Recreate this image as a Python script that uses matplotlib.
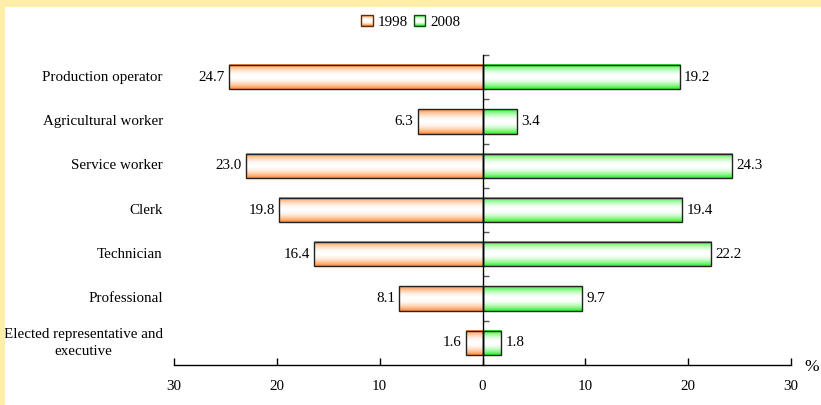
import numpy as np
import matplotlib
matplotlib.use("Agg")
import matplotlib.pyplot as plt
from matplotlib.patches import Rectangle
from matplotlib.legend_handler import HandlerBase
from matplotlib.colors import to_rgb

categories = ['Production operator', 'Agricultural worker', 'Service worker', 'Clerk',
              'Technician', 'Professional', 'Elected representative and\nexecutive']
v1998 = [24.7, 6.3, 23.0, 19.8, 16.4, 8.1, 1.6]
v2008 = [19.2, 3.4, 24.3, 19.4, 22.2, 9.7, 1.8]
series_names = ['1998', '2008']
xticks = [-30, -20, -10, 0, 10, 20, 30]

ORANGE = '#FF8833'
GREEN = '#22F022'

plt.rcParams['font.family'] = ['Liberation Serif', 'DejaVu Serif']
plt.rcParams['font.size'] = 10.8

fig = plt.figure(figsize=(8.21, 4.05), dpi=100)
fig.patch.set_facecolor('white')
# yellow frame (top and left)
fig.patches.append(Rectangle((0, 1 - 7 / 405), 1, 7 / 405, transform=fig.transFigure,
                             facecolor='#FFEDAA', edgecolor='none', zorder=0))
fig.patches.append(Rectangle((0, 0), 5 / 821, 1, transform=fig.transFigure,
                             facecolor='#FFEDAA', edgecolor='none', zorder=0))

ax = fig.add_axes([174 / 821, 40 / 405, 617 / 821, 310 / 405])
ax.set_facecolor('none')

def gradient(color, n=64, p=2.0):
    c = np.array(to_rgb(color))
    t = np.linspace(-1, 1, n)
    w = np.abs(t) ** p
    img = (1 - w)[:, None] * np.ones(3)[None, :] + w[:, None] * c[None, :]
    return img[:, None, :]

y = np.arange(len(categories))
h = 0.55
bars_a = ax.barh(y, [-v for v in v1998], height=h, facecolor='none', edgecolor='#222222',
                 linewidth=1, zorder=3)
bars_b = ax.barh(y, v2008, height=h, facecolor='none', edgecolor='#222222',
                 linewidth=1, zorder=3)
for bars, col in ((bars_a, ORANGE), (bars_b, GREEN)):
    g = gradient(col)
    for p in bars.patches:
        x0, y0, w, hh = p.get_x(), p.get_y(), p.get_width(), p.get_height()
        ax.imshow(g, extent=(min(x0, x0 + w), max(x0, x0 + w), y0 + hh, y0),
                  aspect='auto', interpolation='bilinear', zorder=2)

for i, (a, b) in enumerate(zip(v1998, v2008)):
    ax.annotate(f'{a:.1f}', xy=(-a, i), xytext=(-3, 0), textcoords='offset points',
                ha='right', va='center')
    ax.annotate(f'{b:.1f}', xy=(b, i), xytext=(3, 0), textcoords='offset points',
                ha='left', va='center')
    ax.text(-0.018, i, categories[i], transform=ax.get_yaxis_transform(),
            ha='right', va='center', multialignment='center', linespacing=1.35)

ax.set_xlim(-30, 30)
ax.set_ylim(len(categories) - 0.5, -0.5)

ax.set_xticks(xticks)
ax.set_xticklabels([str(abs(t)) for t in xticks])
ax.tick_params(axis='x', direction='in', length=5, width=1, pad=11)

ax.spines['top'].set_visible(False)
ax.spines['right'].set_visible(False)
ax.spines['left'].set_position(('data', 0))
ax.spines['left'].set_zorder(5)
ax.spines['bottom'].set_linewidth(1)
ax.spines['left'].set_linewidth(1)
ax.set_yticks([])
ax.set_yticks(np.arange(-0.5, len(categories) - 0.5, 1), minor=True)
ax.tick_params(axis='y', which='minor', direction='in', length=4, width=1,
               color='#555555', labelleft=False)

ax.text(1.021, -0.008, '%', transform=ax.transAxes, ha='left', va='center', fontsize=12.5)

class GradHandler(HandlerBase):
    def __init__(self, color, edge):
        super().__init__()
        self.color = color
        self.edge = edge

    def create_artists(self, legend, orig_handle, xdescent, ydescent, width, height,
                       fontsize, trans):
        n = 10
        g = gradient(self.color, n=n)[:, 0, :]
        s = min(width, height)
        x0 = -xdescent + (width - s) / 2
        y0 = -ydescent + (height - s) / 2
        arts = []
        for k in range(n):
            r = Rectangle((x0, y0 + s * k / n), s, s / n, facecolor=g[k], edgecolor='none',
                          transform=trans)
            arts.append(r)
        arts.append(Rectangle((x0, y0), s, s, facecolor='none', edgecolor=self.edge,
                              linewidth=1, transform=trans))
        return arts

h1 = Rectangle((0, 0), 1, 1)
h2 = Rectangle((0, 0), 1, 1)
fig.legend([h1, h2], series_names, loc='center', bbox_to_anchor=(0.5, 0.946), ncol=2,
           frameon=False, handlelength=0.8, handleheight=0.8, columnspacing=0.4,
           handletextpad=0.3,
           handler_map={h1: GradHandler(ORANGE, '#5a3010'), h2: GradHandler(GREEN, '#0a5010')})

fig.savefig('out.png', dpi=100)
